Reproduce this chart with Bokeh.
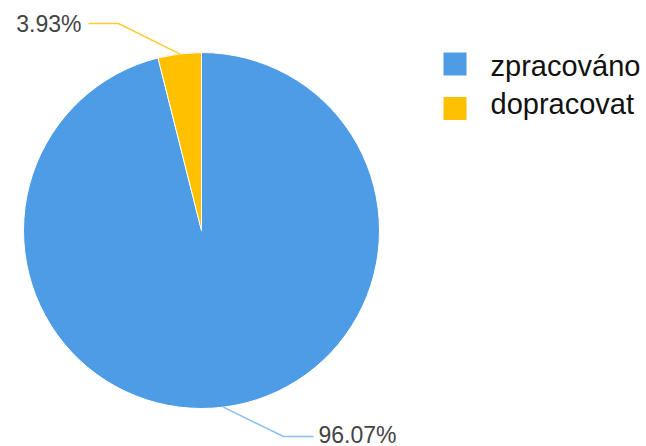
import numpy as np
from bokeh.plotting import figure
from bokeh.models import Range1d, ColumnDataSource
from bokeh.core.properties import value
from bokeh.embed import file_html
from bokeh.resources import INLINE

categories = ["zpracováno", "dopracovat"]
values = [96.07, 3.93]
labels = ["96.07%", "3.93%"]
colors = ["#4E9BE6", "#FFC000"]
line_colors = ["#8DBFF0", "#FFCB33"]

W, H = 646, 446
p = figure(width=W, height=H, output_backend="svg", toolbar_location=None,
           x_range=Range1d(0, W), y_range=Range1d(H, 0), min_border=0)
p.axis.visible = False
p.grid.visible = False
p.outline_line_color = None
p.background_fill_color = "white"

cx, cy, r = 201, 230, 178
vals = np.array(values)
frac = vals / vals.sum()
# angles in screen terms with y pointing down: top = -90deg; going counter-clockwise on screen
order = [1, 0]
start = -np.pi / 2
starts, ends, mids = {}, {}, {}
for i in order:
    a0 = start
    a1 = start - 2 * np.pi * frac[i]
    starts[i], ends[i] = a1, a0
    mids[i] = (a0 + a1) / 2
    start = a1

# Bokeh wedge angles are screen-based (y up), so negate
src = ColumnDataSource(dict(
    x=[cx] * 2, y=[cy] * 2,
    s=[-ends[i] for i in range(2)], e=[-starts[i] for i in range(2)],
    c=colors))
p.wedge(x="x", y="y", radius=r, start_angle="s", end_angle="e",
        fill_color="c", line_color="white", line_width=1, source=src)

# leader lines and labels
label_pos = {1: dict(elbow=(118, 23), end=(88, 23), text=(81, 23), align="right"),
             0: dict(elbow=(283, 436), end=(313, 436), text=(318, 434), align="left")}
for i in range(2):
    m = mids[i]
    px, py = cx + r * np.cos(m), cy + r * np.sin(m)
    lp = label_pos[i]
    p.line([px, lp["elbow"][0], lp["end"][0]], [py, lp["elbow"][1], lp["end"][1]],
           line_color=line_colors[i], line_width=1.5)
    p.text(x=[lp["text"][0]], y=[lp["text"][1]], text=[labels[i]],
           text_font=value("Liberation Sans"), text_font_size="23px",
           text_color="#444444", text_align=lp["align"], text_baseline="middle")

# legend
leg_y_sq = [63.5, 108]
leg_y_txt = [65, 103]
p.rect(x=[454.5] * 2, y=leg_y_sq, width=23, height=23, fill_color=colors, line_color=None)
p.text(x=[490] * 2, y=leg_y_txt, text=categories,
       text_font=value("Liberation Sans"), text_font_size="29px",
       text_color="#111111", text_baseline="middle")

open("out.html", "w").write(file_html(p, INLINE))
